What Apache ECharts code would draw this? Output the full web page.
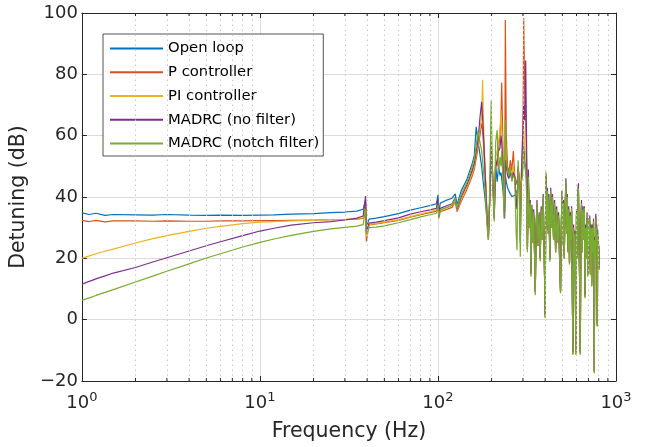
<!DOCTYPE html>
<html>
<head>
<meta charset="utf-8">
<script src="https://cdn.jsdelivr.net/npm/echarts@6/dist/echarts.min.js"></script>
<style>
  html, body { margin: 0; padding: 0; background: #fff; }
  #chart { width: 652px; height: 447px; }
</style>
</head>
<body>
<div id="chart"></div>
<script>
// frequency grid (Hz), shared by all five curves
const freqHz = [
  1, 1.1, 1.2, 1.35, 1.5, 2, 2.5, 3, 4, 5, 6, 8, 10, 12, 15, 20, 25, 30, 35, 38,
  39.2, 39.6, 41, 45, 50, 60, 70, 80, 90, 98, 100, 101, 103, 110, 120, 125, 128, 135, 145, 155, 160,
  164, 168, 172, 176, 178, 181, 185, 189, 192, 195, 199, 203, 207, 211, 215, 219, 223, 226, 228, 232,
  235, 237, 239, 242, 246, 250, 255, 260, 265, 270, 275, 278, 282, 286, 290, 294, 298, 301, 303, 307,
  311, 315,
  318, 322, 326, 330, 333, 337, 341, 345, 349, 352,
  356, 360, 365, 370, 375, 380, 385, 390, 395, 400,
  404, 408, 412, 416, 420, 425, 430, 435, 440, 446,
  452, 458, 464, 470, 476, 482, 488, 493, 497, 502,
  507, 512, 517, 523, 528, 533, 538, 543, 548, 553,
  558, 563, 568, 573, 578, 583, 588, 595, 600, 605,
  610, 615, 620, 625, 630, 635, 640, 646, 652, 658,
  664, 670, 676, 682, 688, 694, 700, 706, 712, 718,
  724, 730, 736, 742, 748, 755, 760, 766, 770, 775,
  780, 785, 790, 795, 800, 805
];

const openLoop = [
  34.8, 34.3, 34.7, 34.0, 34.3, 34.2, 34.1, 34.3, 34.1, 34.0, 34.1, 34.0, 34.1, 34.2, 34.4, 34.6, 34.9, 35.1, 35.4, 36.0,
  39.0, 30.0, 32.8, 33.1, 33.6, 34.6, 35.7, 36.5, 37.2, 37.8, 40.7, 34.5, 38.0, 38.8, 39.6, 41.0, 37.5, 42.0, 45.6, 50.5, 53.5,
  62.9, 58.0, 54.0, 50.0, 47.0, 43.0, 38.0, 32.0, 28.0, 38.0, 52.0, 45.0, 38.0, 50.0, 45.0, 50.0, 47.0, 48.0, 46.0, 42.0,
  38.0, 35.0, 47.0, 45.0, 43.0, 42.0, 41.0, 40.2, 40.0, 40.5, 41.0, 42.0, 43.0, 44.0, 42.0, 45.0, 48.0, 55.0, 58.0, 52.0,
  50.0, 45.0,
  23, 45, 30, 37, 15, 36, 25, 34, 21, 9,
  30, 37, 24, 34, 20, 35, 26, 39, 22, 1,
  47, 30, 41, 28, 39, 19.5, 41, 30, 39, 26,
  37, 22, 35, 25, 33, 20, 9, 30, 40.5, 24,
  37, 20, 34, 44, 28, 39, 22, 35, 18.5, 33,
  26, 35.5, 10.5, -11, 29, 15.5, 28, -11, 34, 20,
  39, 42, 25, 12.5, -11, 28, 37, 22, 35, 26,
  35.5, 7.5, 29, 20, 33.5, 14.5, 31.5, 24, 32, 15,
  29.5, 11, 29.5, 22, 31.5, -17, 26, 20, 33.5, 24,
  29.5, -2, 27.5, 18, 23.5, 16.5
];

const pCtrl = [
  32.4, 32.0, 32.4, 31.9, 32.2, 32.2, 32.1, 32.2, 32.1, 32.1, 32.2, 32.2, 32.3, 32.3, 32.4, 32.5, 32.6, 32.6, 32.8, 33.0,
  38.0, 25.5, 30.9, 31.2, 31.6, 32.4, 33.4, 34.2, 34.9, 35.4, 38.5, 33.0, 35.2, 35.8, 36.6, 38.5, 35.2, 38.5, 42.3, 46.5, 49.0,
  52.5, 56.0, 60.0, 64.0, 62.0, 55.0, 45.0, 34.0, 27.0, 37.0, 55.0, 48.0, 33.0, 52.0, 50.0, 56.0, 60.0, 66.0, 77.3, 55.0,
  40.0, 38.0, 97.7, 60.0, 50.0, 48.0, 52.0, 48.5, 55.0, 47.0, 45.0, 44.0, 49.0, 47.0, 38.0, 48.0, 55.0, 70.0, 98.3, 75.0,
  65.0, 50.0,
  23, 45, 31, 37, 15, 36, 25, 34, 21, 9,
  29, 37, 24, 33, 20, 35, 26, 39, 22, 1,
  46, 30, 41, 28, 39, 19.5, 41, 30, 39, 26,
  37, 22, 35, 25, 33, 20, 9, 30, 40, 24,
  37, 20, 34, 44, 28, 39, 22, 35, 18.5, 33,
  26, 35.5, 10.5, -11, 29, 15.5, 28, -11, 34, 20,
  39, 42, 25, 12.5, -11, 28, 37, 22, 35, 26,
  35.5, 7.5, 29, 20, 33.5, 14.5, 31.5, 24, 32, 15,
  29.5, 11, 29.5, 22, 31.5, -17, 26, 20, 32, 24,
  29.5, -2, 27.5, 18, 23.5, 16.5
];

const piCtrl = [
  20.0, 20.8, 21.5, 22.3, 23.0, 25.0, 26.4, 27.4, 28.8, 29.8, 30.4, 31.3, 31.8, 32.0, 32.2, 32.4, 32.6, 32.7, 32.9, 33.2,
  38.5, 27.0, 31.1, 31.4, 31.8, 32.6, 33.6, 34.5, 35.2, 35.7, 38.8, 33.2, 35.6, 36.3, 37.2, 39.0, 35.6, 39.2, 43.0, 47.5, 50.0,
  54.0, 57.5, 62.0, 66.0, 78.2, 60.0, 46.0, 33.0, 26.5, 38.0, 56.0, 47.0, 34.0, 53.0, 55.0, 58.0, 62.0, 68.4, 62.0, 52.0,
  38.0, 35.0, 58.0, 50.0, 48.0, 47.0, 49.0, 46.5, 50.0, 46.0, 40.0, 38.0, 48.0, 44.0, 30.0, 45.0, 52.0, 58.0, 62.0, 56.0,
  54.0, 48.0,
  22.5, 45.5, 30.5, 37.5, 14.5, 36.5, 25.5, 34.5, 20.5, 8.5,
  29.5, 37.5, 24.5, 33.5, 19.5, 35.5, 26.5, 39.5, 22.5, 1,
  47, 30.5, 41.5, 28.5, 39.5, 19.5, 41.5, 30.5, 39.5, 26.5,
  37.5, 22.5, 35.5, 25.5, 33.5, 20.5, 9, 30.5, 40.5, 24.5,
  37.5, 20.5, 34.5, 44.5, 28.5, 39.5, 22.5, 35.5, 18.5, 33.5,
  26.5, 36, 10.5, -11, 29.5, 15.5, 28.5, -11, 34.5, 20.5,
  39.5, 43.5, 25.5, 12.5, -11, 28.5, 37.5, 22.5, 35.5, 26.5,
  36, 7.5, 29.5, 20.5, 34, 14.5, 32, 24.5, 32.5, 15,
  30, 11, 30, 22.5, 32, -17, 26.5, 20.5, 34, 24.5,
  30, -2, 28, 18.5, 24, 16.5
];

const madrc = [
  11.6, 12.5, 13.3, 14.3, 15.2, 17.0, 18.8, 20.2, 22.4, 24.1, 25.4, 27.4, 28.9, 29.8, 30.8, 31.6, 32.0, 32.5, 33.1, 33.8,
  40.3, 28.5, 31.5, 31.8, 32.3, 33.2, 34.4, 35.2, 35.8, 36.3, 39.5, 33.6, 36.3, 37.0, 37.8, 39.8, 36.0, 40.0, 43.8, 48.3, 51.0,
  55.0, 58.5, 65.7, 71.0, 66.0, 58.0, 45.0, 32.0, 26.0, 38.0, 58.0, 46.0, 33.0, 50.0, 52.0, 55.0, 56.0, 60.0, 58.0, 50.0,
  36.0, 33.0, 52.0, 50.0, 47.0, 46.0, 48.0, 45.5, 48.0, 46.5, 38.0, 36.0, 50.0, 45.0, 25.0, 44.0, 58.0, 62.0, 70.0, 65.0,
  84.5, 55.0,
  24, 49.0, 31, 39, 15, 37.5, 26, 36, 21, 9,
  31, 39, 25, 35, 20, 37, 27, 41, 23, 1.5,
  47.5, 31, 43, 29, 41, 20, 43, 31, 41, 27,
  39, 23, 37, 26, 35, 21, 9.5, 31, 42, 25,
  39, 21, 36, 46.1, 29, 41, 23, 37, 19, 35,
  27, 37, 11, -10.5, 31, 16, 29, -10.5, 36, 21,
  41, 44.5, 26, 13, -10.5, 29, 39, 23, 37, 27,
  37, 8, 31, 21, 35, 15, 33, 25, 34, 15.5,
  31, 12, 31, 23, 33, -16.5, 27, 21, 34.5, 25,
  31, -1.3, 29, 19, 24.5, 17
];

const madrcNotch = [
  6.3, 7.1, 7.9, 8.9, 9.8, 12.3, 14.2, 15.8, 18.2, 20.1, 21.5, 23.7, 25.2, 26.3, 27.5, 28.8, 29.6, 30.1, 30.5, 31.0,
  36.0, 28.0, 30.0, 30.2, 30.6, 31.6, 32.6, 33.5, 34.2, 34.7, 37.5, 33.8, 35.8, 36.5, 37.3, 39.6, 36.3, 40.8, 44.6, 49.5, 52.5,
  57.0, 61.5, 58.0, 55.0, 52.0, 47.0, 40.0, 30.0, 26.0, 42.0, 71.4, 44.0, 32.0, 58.0, 61.8, 48.0, 53.0, 50.0, 55.0, 45.0,
  33.0, 32.5, 65.1, 52.0, 49.0, 47.0, 50.0, 45.0, 47.0, 46.0, 28.0, 22.7, 52.0, 45.0, 20.5, 45.0, 47.0, 50.0, 55.0, 50.0,
  48.0, 40.0,
  22, 46.6, 30, 38, 14.0, 36.9, 25, 35, 20, 8.0,
  30, 38, 24, 34, 19, 36, 26, 40, 22, 0.5,
  48.3, 30, 42, 28, 40, 18.9, 42, 30, 40, 26,
  38, 22, 36, 25, 34, 20, 8.6, 30, 41.3, 24,
  38, 20, 35, 45, 28, 40, 22, 36, 18, 34,
  26, 36.3, 10, -11.5, 30, 15, 28, -11.5, 35, 20,
  40, 42.9, 25, 12, -11.5, 28, 38, 22, 36, 26,
  36.4, 7, 30, 20, 34.1, 14, 32, 24, 33, 14.6,
  30, 10.8, 30, 22, 32, -17.5, 26, 20, 33, 24,
  30, -2.3, 28, 18, 23.8, 16.2
];

const seriesNames = ['Open loop', 'P controller', 'PI controller', 'MADRC (no filter)', 'MADRC (notch filter)'];
const seriesColors = ['#0072BD', '#D95319', '#EDB120', '#7E2F8E', '#77AC30'];
const seriesValues = [openLoop, pCtrl, piCtrl, madrc, madrcNotch];

// minor decade positions for the dotted grid and small ticks
const minorF = [2, 3, 4, 5, 6, 7, 8, 9, 20, 30, 40, 50, 60, 70, 80, 90, 200, 300, 400, 500, 600, 700, 800, 900];

const FONT = 'DejaVu Sans';
const INK = '#262626';

const chart = echarts.init(document.getElementById('chart'), null, { renderer: 'canvas' });

const lineSeries = seriesNames.map((name, s) => ({
  name: name,
  type: 'line',
  xAxisIndex: 0,
  yAxisIndex: 0,
  symbol: 'none',
  showSymbol: false,
  color: seriesColors[s],
  lineStyle: { color: seriesColors[s], width: 1.2 },
  data: freqHz.map((f, i) => [f, seriesValues[s][i]]),
  z: 3,
}));

const gridSeries = {
  name: 'minor-grid',
  type: 'line',
  data: [],
  silent: true,
  z: 1,
  markLine: {
    silent: true,
    symbol: 'none',
    animation: false,
    label: { show: false },
    lineStyle: { color: '#c8c8c8', width: 1, type: [1.5, 3.5] },
    data: minorF.map((v) => ({ xAxis: v })),
  },
};

const xLabel = (v) => {
  const e = Math.round(Math.log10(v));
  return '{b|10}{s|' + e + '}';
};
const xRich = {
  b: { fontFamily: FONT, fontSize: 18, color: INK, lineHeight: 24 },
  s: { fontFamily: FONT, fontSize: 13, color: INK, lineHeight: 13, verticalAlign: 'top' },
};

const option = {
  animation: false,
  backgroundColor: '#fff',
  grid: { left: 80, right: 36, top: 13, bottom: 66 },
  legend: {
    data: seriesNames,
    orient: 'vertical',
    left: 103,
    top: 34,
    itemWidth: 53,
    itemHeight: 14,
    itemGap: 8.75,
    padding: [7, 4, 5, 6],
    backgroundColor: '#fff',
    borderColor: INK,
    borderWidth: 0.8,
    borderRadius: 0,
    selectedMode: false,
    itemStyle: { opacity: 0 },
    textStyle: { fontFamily: FONT, fontSize: 14.8, color: '#000' },
  },
  xAxis: [
    {
      type: 'log',
      logBase: 10,
      min: 1,
      max: 1000,
      position: 'bottom',
      name: 'Frequency (Hz)',
      nameLocation: 'middle',
      nameGap: 40,
      nameTextStyle: { fontFamily: FONT, fontSize: 20.5, color: INK },
      axisLine: { show: true, onZero: false, lineStyle: { color: INK, width: 1 } },
      axisTick: { show: true, inside: true, length: 5, lineStyle: { color: INK } },
      axisLabel: { margin: 10, formatter: xLabel, rich: xRich, showMinLabel: true, showMaxLabel: true },
      splitLine: { show: true, lineStyle: { color: '#dcdcdc', width: 1 } },
    },
    {
      type: 'log',
      logBase: 10,
      min: 1,
      max: 1000,
      position: 'top',
      axisLine: { show: true, onZero: false, lineStyle: { color: INK, width: 1 } },
      axisTick: { show: true, inside: true, length: 5, lineStyle: { color: INK } },
      axisLabel: { show: false },
      splitLine: { show: false },
    },
  ],
  yAxis: [
    {
      type: 'value',
      min: -20,
      max: 100,
      interval: 20,
      position: 'left',
      name: 'Detuning (dB)',
      nameLocation: 'middle',
      nameGap: 46,
      nameTextStyle: { fontFamily: FONT, fontSize: 20.5, color: INK },
      axisLine: { show: true, onZero: false, lineStyle: { color: INK, width: 1 } },
      axisTick: { show: true, inside: true, length: 5, lineStyle: { color: INK } },
      axisLabel: {
        margin: 4,
        fontFamily: FONT,
        fontSize: 18,
        color: INK,
        formatter: (v) => String(v).replace('-', '\u2212'),
      },
      splitLine: { show: true, lineStyle: { color: '#dcdcdc', width: 1 } },
    },
    {
      type: 'value',
      min: -20,
      max: 100,
      interval: 20,
      position: 'right',
      axisLine: { show: true, onZero: false, lineStyle: { color: INK, width: 1 } },
      axisTick: { show: true, inside: true, length: 5, lineStyle: { color: INK } },
      axisLabel: { show: false },
      splitLine: { show: false },
    },
  ],
  series: [gridSeries].concat(lineSeries),
};

chart.setOption(option);

// small minor ticks along the bottom and top edges
function drawMinorTicks() {
  const yBot = chart.convertToPixel({ yAxisIndex: 0 }, -20);
  const yTop = chart.convertToPixel({ yAxisIndex: 0 }, 100);
  const els = [];
  minorF.forEach((f) => {
    const x = chart.convertToPixel({ xAxisIndex: 0 }, f);
    els.push({ type: 'line', silent: true, z: 10, shape: { x1: x, y1: yBot, x2: x, y2: yBot - 3 }, style: { stroke: INK, lineWidth: 1 } });
    els.push({ type: 'line', silent: true, z: 10, shape: { x1: x, y1: yTop, x2: x, y2: yTop + 3 }, style: { stroke: INK, lineWidth: 1 } });
  });
  chart.setOption({ graphic: els });
}
drawMinorTicks();

window.addEventListener('resize', () => {
  chart.resize();
  drawMinorTicks();
});
</script>
</body>
</html>
